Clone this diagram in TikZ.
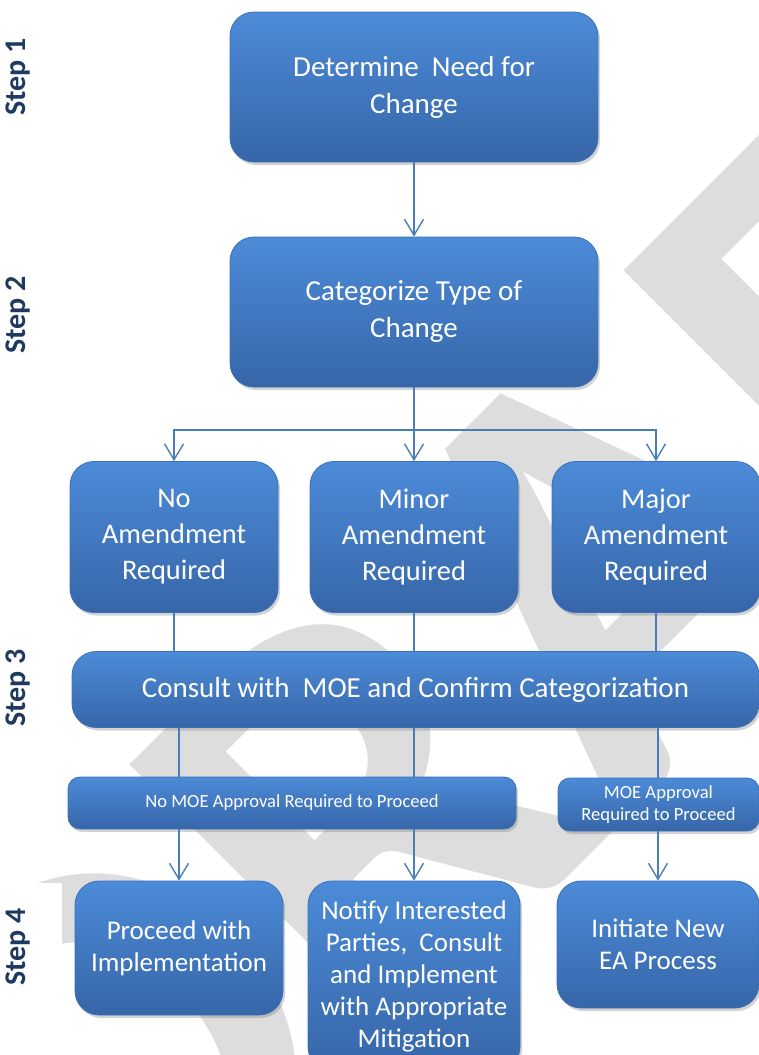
\documentclass[tikz,border=0pt]{standalone}
\usepackage{fontspec}
\setmainfont{Carlito}
\usetikzlibrary{arrows.meta,shadows}

\definecolor{boxtop}{HTML}{4C8BD8}
\definecolor{boxbot}{HTML}{3766A8}
\definecolor{boxedge}{HTML}{3A70B8}
\definecolor{wire}{HTML}{4A7EBB}
\definecolor{steptext}{HTML}{1F3A60}
\definecolor{wmark}{HTML}{DDDDDD}

\begin{document}
\begin{tikzpicture}[
  x=0.5pt, y=-0.5pt,
  block/.style={rounded corners=12pt, draw=boxedge, line width=0.4pt,
    top color=boxtop, bottom color=boxbot, text=white, align=center,
    font=\fontsize{14.5}{18.5}\selectfont, inner sep=2pt,
    drop shadow={opacity=0.35, shadow xshift=1pt, shadow yshift=-1.5pt}},
  bigblock/.style={block, minimum width=184pt, minimum height=75pt},
  midblock/.style={block, minimum width=104pt, minimum height=75.5pt,
    font=\fontsize{14.2}{18}\selectfont},
  bar/.style={block, rounded corners=6pt, font=\fontsize{9.3}{11}\selectfont,
    minimum height=26pt},
  lowblock/.style={block, font=\fontsize{13.5}{16}\selectfont},
  steplabel/.style={rotate=90, text=steptext,
    font=\fontsize{15}{17}\selectfont\bfseries},
  link/.style={draw=wire, line width=0.7pt},
  arrow/.style={link, -{Straight Barb[length=8pt,width=9.5pt]}},
]
  \useasboundingbox (0,0) rectangle (759,1055);

  % watermark
  \node[rotate=45, text=wmark, font=\fontsize{300}{300}\selectfont\bfseries]
    (draft) at (560,610) {DRAFT};
  \fill[white] (0,883) rectangle (62,1055);

  % steps
  \node[steplabel] (s1) at (18,77) {Step 1};
  \node[steplabel] (s2) at (18,315) {Step 2};
  \node[steplabel] (s3) at (18,688) {Step 3};
  \node[steplabel] (s4) at (18,947) {Step 4};

  \node[bigblock] (need) at (414,87) {Determine\ \ Need for\\Change};
  \node[bigblock] (categorize) at (414,312) {Categorize Type of\\Change};

  \node[midblock] (noamend) at (174,537) {No\\Amendment\\Required};
  \node[midblock] (minor) at (414,537) {Minor\\Amendment\\Required};
  \node[midblock] (major) at (656,537) {Major\\Amendment\\Required};

  \node[block, minimum width=343.5pt, minimum height=38pt] (consult)
    at (415.5,689.5) {Consult with\ \ MOE and Confirm Categorization};

  \node[bar, minimum width=224pt] (noappr) at (292,803)
    {No MOE Approval Required to Proceed};
  \node[bar, minimum width=100.5pt, minimum height=26.5pt] (appr)
    at (658.5,804.5) {MOE Approval\\Required to Proceed};

  \node[lowblock, minimum width=104pt, minimum height=67pt] (proceed)
    at (179,948) {Proceed with\\Implementation};
  \node[lowblock, minimum width=106pt, minimum height=95pt] (notify)
    at (414,976) {Notify Interested\\Parties,\ \ Consult\\and Implement\\with Appropriate\\Mitigation};
  \node[lowblock, minimum width=101pt, minimum height=63.5pt] (initiate)
    at (658,944.5) {Initiate New\\EA Process};

  \coordinate (split) at (414,430);

  \draw[arrow] (need) -- (categorize);
  \draw[arrow] (categorize) -- (minor);
  \draw[arrow] (split) -| (noamend);
  \draw[arrow] (split) -| (major);

  \draw[link] (noamend.south) -- (noamend.south |- consult.north);
  \draw[link] (minor.south) -- (minor.south |- consult.north);
  \draw[link] (major.south) -- (major.south |- consult.north);

  \draw[link] (consult.south -| proceed) -- (noappr.north -| proceed);
  \draw[link] (consult.south -| notify) -- (noappr.north -| notify);
  \draw[link] (consult.south -| initiate) -- (appr.north -| initiate);

  \draw[arrow] (noappr.south -| proceed) -- (proceed);
  \draw[arrow] (noappr.south -| notify) -- (notify);
  \draw[arrow] (appr.south -| initiate) -- (initiate);
\end{tikzpicture}
\end{document}
